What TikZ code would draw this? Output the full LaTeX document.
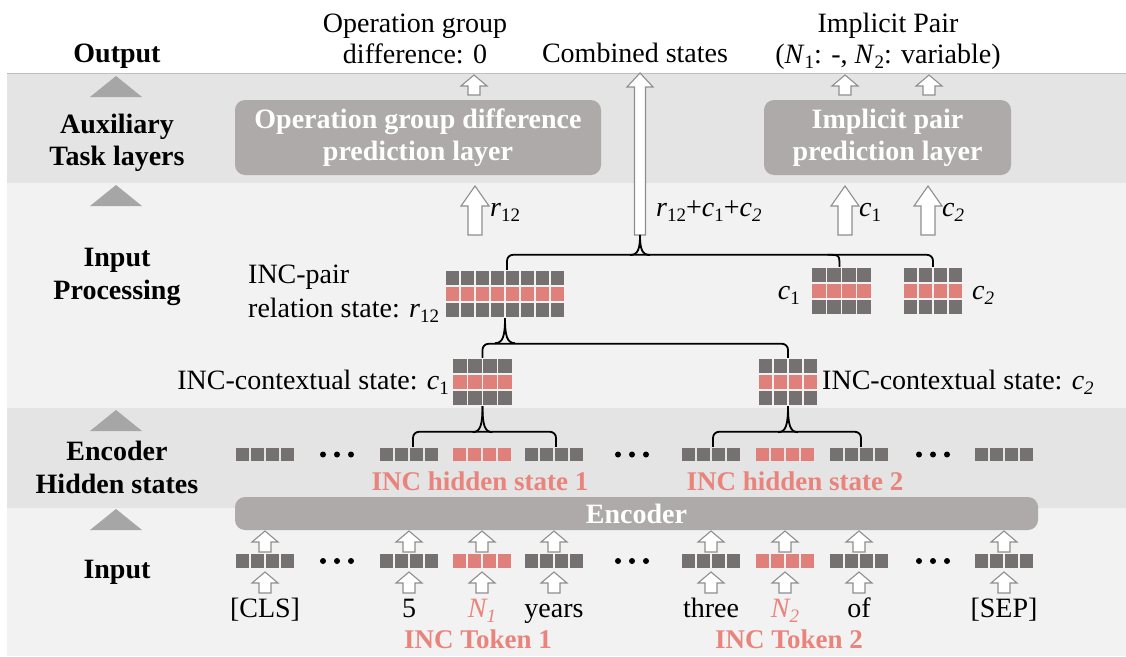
\documentclass[tikz,border=0pt]{standalone}
\usepackage{fontspec}
\setmainfont{Liberation Serif}
\usetikzlibrary{calc}

\definecolor{bandD}{HTML}{E4E4E4}
\definecolor{bandL}{HTML}{F2F2F2}
\definecolor{cellD}{HTML}{757171}
\definecolor{cellP}{HTML}{E0807A}
\definecolor{txtP}{HTML}{E8847C}
\definecolor{boxG}{HTML}{AEAAAA}
\definecolor{triG}{HTML}{A6A6A6}
\definecolor{arrG}{HTML}{8E8E8E}

% lowered subscript in text mode
\newcommand\sbs[1]{\raisebox{-0.2em}{\fontsize{19}{19}\selectfont #1}}

% hollow block arrow: x, y of tip, y of foot, shaft half width, head half width, head length
\newcommand\barrow[6]{%
  \draw[barr] (#1-#4,#3) -- (#1-#4,#2+#6) -- (#1-#5,#2+#6) -- (#1,#2)
    -- (#1+#5,#2+#6) -- (#1+#4,#2+#6) -- (#1+#4,#3) -- cycle;}

% state grid of three rows (middle row highlighted): name, cx, cy, columns
\newcommand\stategrid[4]{%
  \node[inner sep=0pt, minimum width=#4*15pt, minimum height=48pt] (#1) at (#2,#3) {};
  \foreach \i in {1,...,#4}{\foreach \j in {1,2,3}{%
    \ifnum\j=2 \def\cc{cellP}\else\def\cc{cellD}\fi
    \fill[\cc] (#2-#4*7.5+\i*15-15+0.6, #3-24+\j*16-16+0.6) rectangle ++(13.8,14.8);}}}

% one hidden / embedding vector of four cells: name, cx, cy, colour
\newcommand\vecrow[4]{%
  \node[inner sep=0pt, minimum width=60pt, minimum height=15pt] (#1) at (#2,#3) {};
  \foreach \i in {1,...,4}{%
    \fill[#4] (#2-30+\i*15-15+0.6, #3-7.5+0.6) rectangle ++(13.8,13.8);}}

% brace tip pointing up at a named coordinate, horizontal bar #2 below it
\newcommand\cusp[2]{%
  \draw[brc] (#1) .. controls ($(#1)+(0,#2*0.7)$) and ($(#1)+(-2,#2)$) .. ($(#1)+(-10,#2)$);
  \draw[brc] (#1) .. controls ($(#1)+(0,#2*0.7)$) and ($(#1)+(2,#2)$) .. ($(#1)+(10,#2)$);}

\tikzset{
  barr/.style={draw=arrG, fill=white, line width=1.1pt, line join=miter},
  brc/.style={draw=black, line width=1.8pt},
  brcr/.style={brc, rounded corners=6pt},
  txt/.style={font=\fontsize{28}{31}\selectfont, inner sep=0pt},
  lab/.style={font=\fontsize{28}{31}\selectfont\bfseries, inner sep=0pt},
  ptxt/.style={font=\fontsize{27}{31}\selectfont\bfseries, text=txtP, inner sep=0pt},
  gbox/.style={fill=boxG, rounded corners=10pt, text=white, align=center,
    font=\fontsize{28}{32}\selectfont\bfseries, inner sep=0pt},
  tri/.style={fill=triG},
}

\begin{document}
\begin{tikzpicture}[x=1pt, y=-1pt]
\useasboundingbox (0,0) rectangle (1126,656);

% layer bands
\fill[bandL] (7,73) rectangle (1126,656);
\fill[bandD] (7,73) rectangle (1126,183);
\fill[bandD] (7,408) rectangle (1126,508);
\draw[black!25, line width=0.8pt] (7,73) -- (1126,73);

% layer markers and names
\foreach \t in {76,185,410,509}{\fill[tri] (90,\t+21) -- (116,\t) -- (142,\t+21) -- cycle;}
\node[lab, anchor=base] (lOut) at (117,62) {Output};
\node[lab, anchor=base] (lAux1) at (117,133) {Auxiliary};
\node[lab, anchor=base] (lAux2) at (117,165) {Task layers};
\node[lab, anchor=base] (lPr1) at (117,266) {Input};
\node[lab, anchor=base] (lPr2) at (117,299) {Processing};
\node[lab, anchor=base] (lEn1) at (117,460) {Encoder};
\node[lab, anchor=base] (lEn2) at (117,493) {Hidden states};
\node[lab, anchor=base] (lIn) at (117,578) {Input};

% prediction layers and encoder
\node[gbox, minimum width=366pt, minimum height=75pt] (opbox) at (418,137.5)
  {Operation group difference\\prediction layer};
\node[gbox, minimum width=247pt, minimum height=75pt] (ipbox) at (887.5,137.5)
  {Implicit pair\\prediction layer};
\node[gbox, minimum width=803pt, minimum height=33pt] (enc) at (636.5,513.5) {Encoder};

% outputs
\node[txt, anchor=base] (oOp1) at (415,32) {Operation group};
\node[txt, anchor=base] (oOp2) at (415,63) {difference: 0};
\node[txt, anchor=base] (oComb) at (635,62) {Combined states};
\node[txt, anchor=base] (oIp1) at (888,32) {Implicit Pair};
\node[txt, anchor=base] (oIp2) at (888,63) {(\textit{N}\sbs{1}: -, \textit{N}\sbs{2}: variable)};

\barrow{474}{75}{95}{6}{13}{11}
\barrow{845}{75}{95}{6}{13}{11}
\barrow{929}{75}{95}{6}{13}{11}
\barrow{640}{73}{235}{5.5}{13}{14}
\coordinate (combFoot) at (640,235);

% arrows into the prediction layers
\barrow{475}{186}{235}{7}{14}{20}
\barrow{845}{186}{235}{7}{14}{20}
\barrow{928}{186}{235}{7}{14}{20}
\node[txt, anchor=base west] (aR) at (490,216) {\textit{r}\sbs{12}};
\node[txt, anchor=base west] (aComb) at (656,216)
  {\textit{r}\sbs{12}+\textit{c}\sbs{1}+\textit{c}\sbs{\textit{2}}};
\node[txt, anchor=base west] (aC1) at (859,216) {\textit{c}\sbs{1}};
\node[txt, anchor=base west] (aC2) at (942,216) {\textit{c}\sbs{\textit{2}}};

% state grids
\stategrid{rg}{505}{294}{8}
\stategrid{c1r}{841.5}{291}{4}
\stategrid{c2r}{933}{291}{4}
\stategrid{c1x}{482.5}{382}{4}
\stategrid{c2x}{788}{382}{4}

\node[txt, anchor=base west] (lRel1) at (248,283) {INC-pair};
\node[txt, anchor=base west] (lRel2) at (248,317) {relation state: \textit{r}\sbs{12}};
\node[txt, anchor=base east] (lCtx1) at (449,389) {INC-contextual state: \textit{c}\sbs{1}};
\node[txt, anchor=base west] (lCtx2) at (822,389) {INC-contextual state: \textit{c}\sbs{\textit{2}}};
\node[txt, anchor=base east] (lc1) at (800,299) {\textit{c}\sbs{1}};
\node[txt, anchor=base west] (lc2) at (972,299) {\textit{c}\sbs{\textit{2}}};

% encoder hidden states and input embeddings
\foreach \n/\x/\c in {0/265/cellD,1/409/cellD,2/482/cellP,3/554/cellD,4/711/cellD,5/785/cellP,6/859/cellD,7/1004/cellD}{%
  \vecrow{h\n}{\x}{454.5}{\c}
  \vecrow{e\n}{\x}{561}{\c}
  \barrow{\x}{531}{552}{6}{13}{11}
  \barrow{\x}{572}{593}{6}{13}{11}
}
\foreach \x in {337,632,933}{\foreach \d in {-14,0,14}{%
  \fill (\x+\d,454.5) circle (3pt);
  \fill (\x+\d,561) circle (3pt);}}

\node[ptxt, anchor=base] (lHs1) at (480,490) {INC hidden state 1};
\node[ptxt, anchor=base] (lHs2) at (795,490) {INC hidden state 2};

% input tokens
\node[txt, anchor=base] (t0) at (265,617) {[CLS]};
\node[txt, anchor=base] (t1) at (409,617) {5};
\node[txt, anchor=base, text=txtP] (t2) at (482,617) {\textit{N\sbs{1}}};
\node[txt, anchor=base] (t3) at (554,617) {years};
\node[txt, anchor=base] (t4) at (711,617) {three};
\node[txt, anchor=base, text=txtP] (t5) at (785,617) {\textit{N\sbs{2}}};
\node[txt, anchor=base] (t6) at (859,617) {of};
\node[txt, anchor=base] (t7) at (1004,617) {[SEP]};
\node[ptxt, anchor=base] (lTk1) at (478,648) {INC Token 1};
\node[ptxt, anchor=base] (lTk2) at (789,648) {INC Token 2};

% braces combining states
\draw[brcr] ($(rg.north)+(2,0)$) -- ++(0,-15) -| (c2r.north);
\draw[brc] ($(c1r.north)+(-14,-12)$) .. controls ($(c1r.north)+(-2,-12)$) .. ($(c1r.north)+(-2,0)$);
\cusp{combFoot}{20}

\draw[brcr] (c1x.north) -- ++(0,-14) -| (c2x.north);
\cusp{rg.south}{25}

\draw[brcr] ($(h1.north)+(4,0)$) -- ++(0,-15) -| ($(h3.north)+(2,0)$);
\cusp{c1x.south}{26}
\draw[brcr] ($(h4.north)+(2,0)$) -- ++(0,-15) -| ($(h6.north)+(2,0)$);
\cusp{c2x.south}{26}
\end{tikzpicture}
\end{document}
